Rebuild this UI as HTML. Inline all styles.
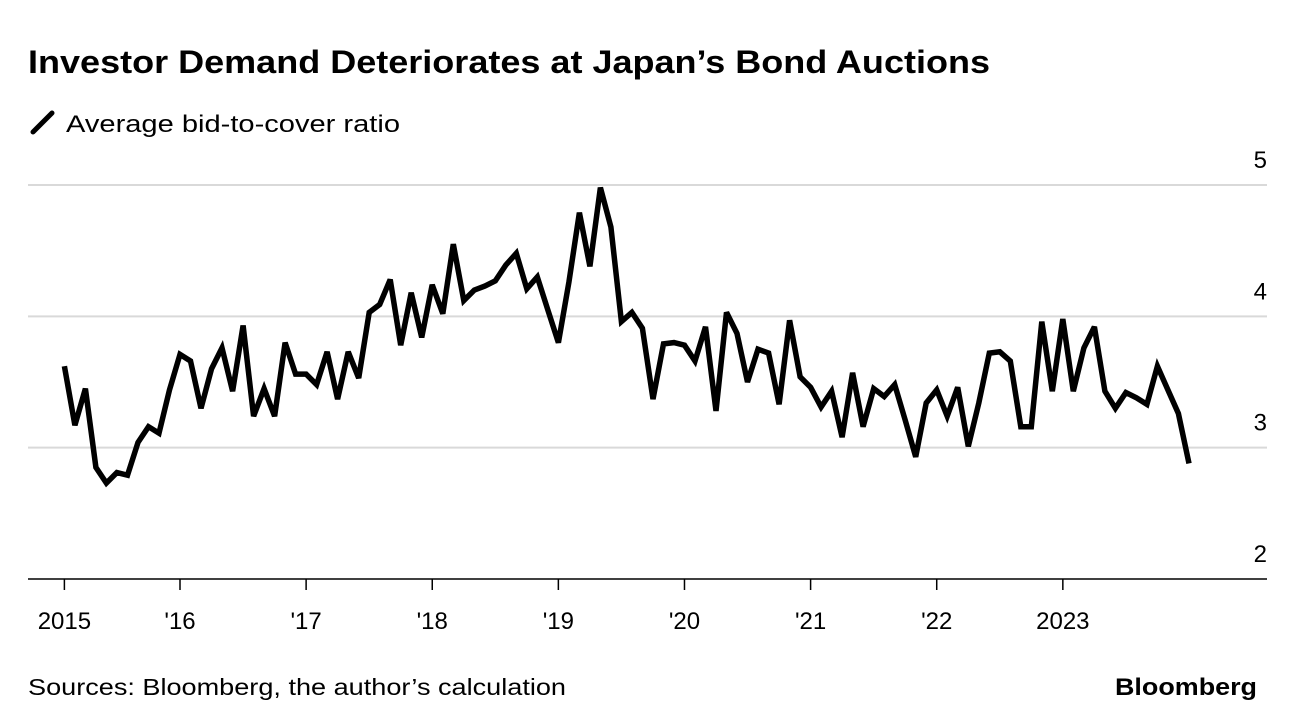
<!DOCTYPE html>
<html><head><meta charset="utf-8"><style>
body{margin:0;background:#fff;width:1296px;height:728px;overflow:hidden;font-family:"Liberation Sans",Arial,sans-serif;}
svg{position:absolute;left:0;top:0}
</style></head><body>
<svg width="1296" height="728">
<text x="28" y="73" font-size="32" font-weight="bold" fill="#000" textLength="962" lengthAdjust="spacingAndGlyphs">Investor Demand Deteriorates at Japan’s Bond Auctions</text>
<g>
<line x1="33" y1="132" x2="52" y2="113" stroke="#000" stroke-width="5" stroke-linecap="round"/>
<text x="66" y="132" font-size="24" fill="#000" textLength="334" lengthAdjust="spacingAndGlyphs">Average bid-to-cover ratio</text>
</g>
<g id="grid"></g><g id="yticks"></g><g id="xticks"></g>
<path id="line" fill="none" stroke="#000" stroke-width="5.5" stroke-linejoin="miter" stroke-miterlimit="3"/>
<line x1="28" y1="579" x2="1267" y2="579" stroke="#000" stroke-width="1.5"/>
<text x="28" y="695" font-size="23" fill="#000" textLength="538" lengthAdjust="spacingAndGlyphs">Sources: Bloomberg, the author’s calculation</text>
<text x="1115" y="695" font-size="24" font-weight="bold" fill="#000" textLength="142" lengthAdjust="spacingAndGlyphs">Bloomberg</text>
</svg>
<script>
const values=[3.62,3.17,3.45,2.85,2.73,2.81,2.79,3.04,3.16,3.11,3.44,3.71,3.66,3.30,3.60,3.76,3.43,3.93,3.24,3.45,3.24,3.80,3.56,3.56,3.48,3.73,3.37,3.73,3.53,4.03,4.09,4.28,3.78,4.18,3.84,4.24,
4.02,4.55,4.12,4.20,4.23,4.27,4.39,4.48,4.21,4.30,4.05,3.80,4.26,4.79,4.38,4.98,4.68,3.96,4.03,3.91,3.37,3.79,3.80,3.78,3.66,3.92,3.28,4.03,3.87,3.50,3.75,3.72,3.33,3.97,3.54,3.46,
3.31,3.43,3.08,3.57,3.16,3.45,3.39,3.48,3.21,2.93,3.34,3.44,3.24,3.46,3.01,3.34,3.72,3.73,3.66,3.16,3.16,3.96,3.43,3.98,3.43,3.76,3.92,3.43,3.30,3.42,3.38,3.33,3.62,3.44,3.26,2.88];
const startMonth=1; // Feb 2015 (months since Jan 2015)
const yTicks=[2,3,4,5];
const xTickLabels=["2015","'16","'17","'18","'19","'20","'21","'22","2023"];
const xTickMonths=[1,12,24,36,48,60,72,84,96];
const NS="http://www.w3.org/2000/svg";
const x=m=>180+(m-12)*10.51;
const y=v=>579-(v-2)*131.33;
const grid=document.getElementById('grid'),yt=document.getElementById('yticks'),xt=document.getElementById('xticks');
yTicks.forEach(t=>{
  if(t>2){const l=document.createElementNS(NS,'line');
  l.setAttribute('x1',28);l.setAttribute('x2',1267);l.setAttribute('y1',y(t));l.setAttribute('y2',y(t));
  l.setAttribute('stroke','#d9d9d9');l.setAttribute('stroke-width','2');
  
  
  grid.appendChild(l);}
  const tx=document.createElementNS(NS,'text');
  tx.setAttribute('x',1267);tx.setAttribute('y',y(t)-17);tx.setAttribute('text-anchor','end');
  tx.setAttribute('font-size','24');tx.textContent=t;
  
  
  yt.appendChild(tx);
});
xTickMonths.forEach((m,i)=>{
  const l=document.createElementNS(NS,'line');
  l.setAttribute('x1',x(m));l.setAttribute('x2',x(m));l.setAttribute('y1',579);l.setAttribute('y2',590);
  l.setAttribute('stroke','#000');l.setAttribute('stroke-width','1.5');
  
  
  xt.appendChild(l);
  const tx=document.createElementNS(NS,'text');
  tx.setAttribute('x',x(m));tx.setAttribute('y',629);tx.setAttribute('text-anchor','middle');
  tx.setAttribute('font-size','24');tx.textContent=xTickLabels[i];
  
  
  xt.appendChild(tx);
});
document.getElementById('line').setAttribute('d',values.map((v,i)=>(i?'L':'M')+x(startMonth+i).toFixed(1)+','+y(v).toFixed(1)).join(''));
</script>
</body></html>
